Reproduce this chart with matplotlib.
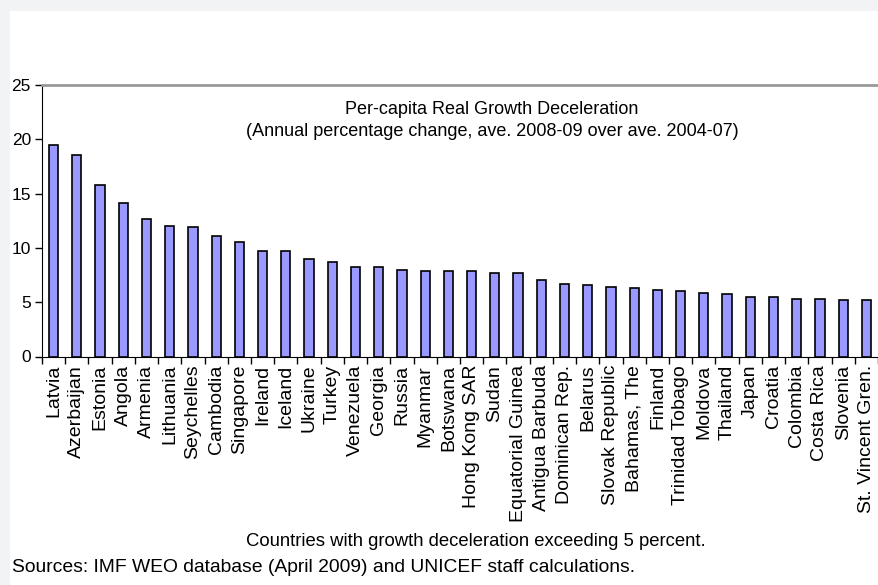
import matplotlib
matplotlib.use("Agg")
import matplotlib.pyplot as plt
from matplotlib.patches import Rectangle
import numpy as np

countries = ["Latvia", "Azerbaijan", "Estonia", "Angola", "Armenia", "Lithuania",
             "Seychelles", "Cambodia", "Singapore", "Ireland", "Iceland", "Ukraine",
             "Turkey", "Venezuela", "Georgia", "Russia", "Myanmar", "Botswana",
             "Hong Kong SAR", "Sudan", "Equatorial Guinea", "Antigua Barbuda",
             "Dominican Rep.", "Belarus", "Slovak Republic", "Bahamas, The", "Finland",
             "Trinidad Tobago", "Moldova", "Thailand", "Japan", "Croatia", "Colombia",
             "Costa Rica", "Slovenia", "St. Vincent Gren."]
values = [19.5, 18.55, 15.75, 14.15, 12.7, 12.02, 11.9, 11.1, 10.55, 9.75, 9.75, 8.96,
          8.68, 8.28, 8.28, 8.0, 7.88, 7.88, 7.88, 7.73, 7.73, 7.06, 6.69, 6.55,
          6.44, 6.29, 6.16, 6.04, 5.89, 5.77, 5.52, 5.52, 5.34, 5.34, 5.22, 5.22]
yticks = [0, 5, 10, 15, 20, 25]

plt.rcParams['font.family'] = ['Liberation Sans', 'DejaVu Sans']

W, H = 879, 585
fig = plt.figure(figsize=(W / 100, H / 100), dpi=100)
fig.patch.set_facecolor('#F2F3F5')
fig.patches.append(Rectangle((10 / W, 0), 1 - 10 / W, 1 - 11 / H, transform=fig.transFigure,
                             facecolor='white', edgecolor='none', zorder=-10))

left, right = 42 / W, 878 / W
bottom, top = 1 - 356.5 / H, 1 - 85 / H
ax = fig.add_axes([left, bottom, right - left, top - bottom])
ax.set_facecolor('none')

n = len(countries)
x = np.arange(n)
ax.bar(x, values, width=0.4, color='#9999FF', edgecolor='black', linewidth=1.2, zorder=3)

ax.set_xlim(-0.5, n - 0.5)
ax.set_ylim(0, 25)
ax.set_yticks(yticks)
ax.set_yticklabels([str(t) for t in yticks], fontsize=12.5)

ax.set_xticks(x)
ax.set_xticklabels(countries, rotation=90, fontsize=14, va='top', ha='center')
ax.set_xticks(np.arange(n + 1) - 0.5, minor=True)
ax.tick_params(axis='x', which='major', length=0, pad=6)
ax.tick_params(axis='x', which='minor', length=5, width=1, color='black', direction='out')
ax.tick_params(axis='y', length=5, width=1, color='black', direction='out', pad=3)

ax.spines['right'].set_visible(False)
ax.spines['top'].set_color('#999999')
ax.spines['top'].set_linewidth(2)
ax.spines['left'].set_color('black')
ax.spines['bottom'].set_color('black')

fig.text(492 / W, 1 - 114 / H, "Per-capita Real Growth Deceleration", ha='center', va='baseline', fontsize=13)
fig.text(492 / W, 1 - 136 / H, "(Annual percentage change, ave. 2008-09 over ave. 2004-07)",
         ha='center', va='baseline', fontsize=13)
fig.text(476 / W, 1 - 541 / H, "Countries with growth deceleration exceeding 5 percent.",
         ha='center', va='center', fontsize=13.3)
fig.text(12 / W, 1 - 568 / H, "Sources: IMF WEO database (April 2009) and UNICEF staff calculations.",
         ha='left', va='center', fontsize=13.9)

fig.savefig("out.png", dpi=100, facecolor=fig.get_facecolor())
